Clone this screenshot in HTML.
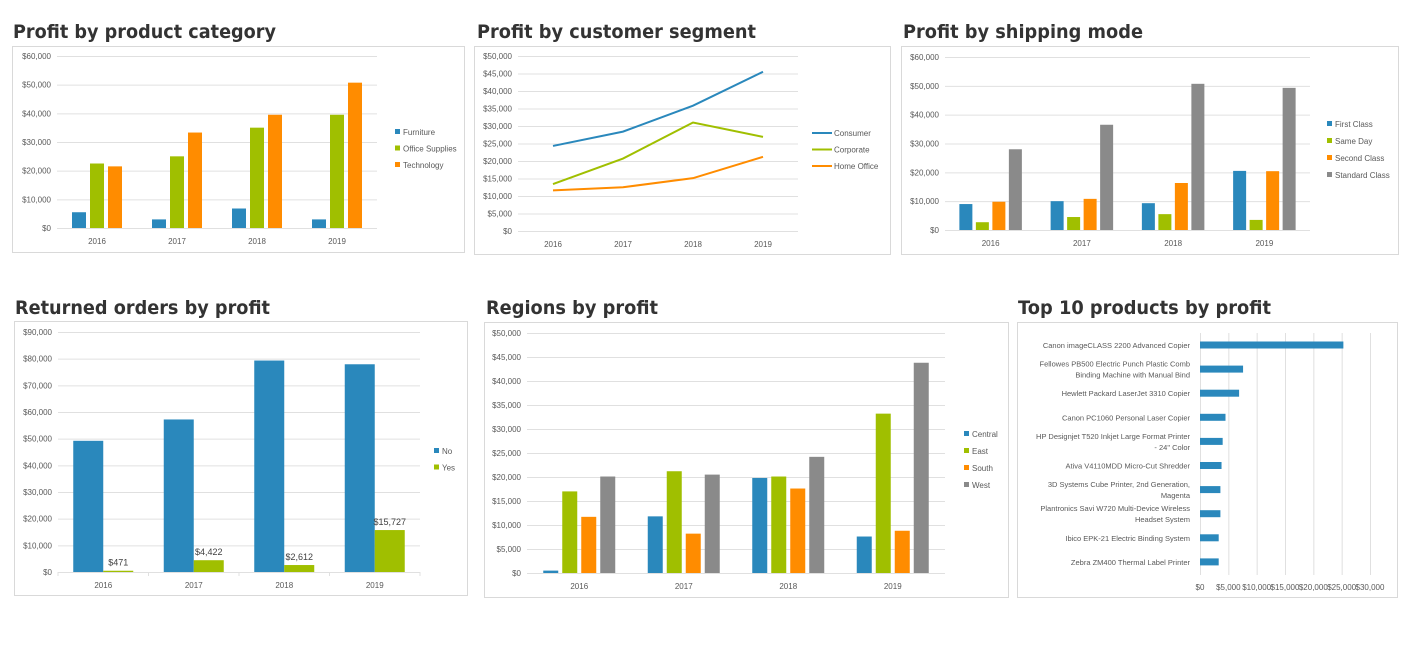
<!DOCTYPE html>
<html><head><meta charset="utf-8"><style>
html,body{margin:0;padding:0;background:#fff;width:1409px;height:645px;overflow:hidden}
svg{display:block;font-family:"Liberation Sans","DejaVu Sans",sans-serif}
</style></head><body>
<svg id="s" width="1409" height="645" viewBox="0 0 1409 645"></svg>
<script>
const years=["2016","2017","2018","2019"];
const catNames=["Furniture","Office Supplies","Technology"];
const catFurniture=[5500,3000,6800,3000];
const catOffice=[22500,25000,35000,39500];
const catTech=[21500,33300,39500,50700];
const catTicks=[0,10000,20000,30000,40000,50000,60000];
const segNames=["Consumer","Corporate","Home Office"];
const segConsumer=[24300,28400,35800,45500];
const segCorporate=[13400,20700,31000,26900];
const segHome=[11600,12500,15100,21200];
const segTicks=[0,5000,10000,15000,20000,25000,30000,35000,40000,45000,50000];
const shipNames=["First Class","Same Day","Second Class","Standard Class"];
const shipFirst=[9000,10000,9300,20500];
const shipSame=[2700,4500,5500,3500];
const shipSecond=[9800,10800,16300,20400];
const shipStandard=[28000,36500,50700,49300];
const shipTicks=[0,10000,20000,30000,40000,50000,60000];
const retNames=["No","Yes"];
const retNo=[49200,57200,79300,77900];
const retYes=[471,4422,2612,15727];
const retLabels=["$471","$4,422","$2,612","$15,727"];
const retTicks=[0,10000,20000,30000,40000,50000,60000,70000,80000,90000];
const regNames=["Central","East","South","West"];
const regCentral=[500,11800,19800,7600];
const regEast=[17000,21200,20100,33200];
const regSouth=[11700,8200,17600,8800];
const regWest=[20100,20500,24200,43800];
const regTicks=[0,5000,10000,15000,20000,25000,30000,35000,40000,45000,50000];
const prodNames=[["Canon imageCLASS 2200 Advanced Copier"],["Fellowes PB500 Electric Punch Plastic Comb","Binding Machine with Manual Bind"],["Hewlett Packard LaserJet 3310 Copier"],["Canon PC1060 Personal Laser Copier"],["HP Designjet T520 Inkjet Large Format Printer","- 24\" Color"],["Ativa V4110MDD Micro-Cut Shredder"],["3D Systems Cube Printer, 2nd Generation,","Magenta"],["Plantronics Savi W720 Multi-Device Wireless","Headset System"],["Ibico EPK-21 Electric Binding System"],["Zebra ZM400 Thermal Label Printer"]];
const prodValues=[25300,7600,6900,4500,4000,3800,3600,3600,3300,3300];
const prodTicks=[0,5000,10000,15000,20000,25000,30000];

const S=document.getElementById('s');const NS='http://www.w3.org/2000/svg';
const BLUE='#2a88bc',GREEN='#a0bf00',ORANGE='#ff8c00',GRAY='#8a8a8a',TXT='#595959',GRID='#e0e0e0';
function el(t,a,p){const e=document.createElementNS(NS,t);for(const k in a)e.setAttribute(k,a[k]);(p||S).appendChild(e);return e;}
function txt(x,y,s,a,p){const e=el('text',Object.assign({x:x,y:y,fill:TXT,'font-size':8},a),p);e.textContent=s;return e;}
function money(v){return '$'+v.toLocaleString('en-US');}
function title(x,y,s,w,name){const t=txt(x,y,s,{'font-size':19,'font-weight':'bold',fill:'#333','font-family':'"DejaVu Sans",sans-serif',textLength:w,lengthAdjust:'spacingAndGlyphs'});}
function box(x,y,w,h,name){const r=el('rect',{x:x+.5,y:y+.5,width:w,height:h,fill:'#fff',stroke:'#d9d9d9'});}
function yaxis(ticks,x0,x1,yTop,yBot,g){const mx=ticks[ticks.length-1];const sy=v=>yBot-(v/mx)*(yBot-yTop);
 ticks.forEach(t=>{const l=el('line',{x1:x0,x2:x1,y1:sy(t)+.5,y2:sy(t)+.5,stroke:GRID},g);
  const tl=txt(x0-6,sy(t)+3,money(t),{'text-anchor':'end'},g);});return sy;}
function xlabels(x0,x1,yBot,g,ticks){const n=years.length,w=(x1-x0)/n;const cx=i=>x0+w*(i+.5);
 years.forEach((yr,i)=>{const t=txt(cx(i),yBot+16,yr,{'text-anchor':'middle'},g);});
 if(ticks){for(let i=0;i<=n;i++)el('line',{x1:x0+w*i,x2:x0+w*i,y1:yBot,y2:yBot+4,stroke:GRID},g);}
 return {cx:cx,w:w};}
function legend(names,colors,x,y0,dy,g,line){names.forEach((n,i)=>{const y=y0+dy*i;const gg=el('g',{},g);
 if(line)el('line',{x1:x,x2:x+20,y1:y,y2:y,stroke:colors[i],'stroke-width':2},gg);else el('rect',{x:x,y:y-3,width:5,height:5,fill:colors[i]},gg);
 txt(x+(line?22:8),y+3,n,{},gg);});}
function bars(series,colors,names,x0,x1,yTop,yBot,ticks,bw,gap,g,ti){const sy=yaxis(ticks,x0,x1,yTop,yBot,g);const xl=xlabels(x0,x1,yBot,g,ti);
 const k=series.length;const tot=k*bw+(k-1)*gap;
 series.forEach((s,j)=>s.forEach((v,i)=>{const x=xl.cx(i)-tot/2+j*(bw+gap);const r=el('rect',{x:x,y:sy(v),width:bw,height:yBot-sy(v),fill:colors[j]},g);
  }));return {sy:sy,xl:xl,tot:tot};}

title(13,38,'Profit by product category',263,'chart-title-category');
box(12,46,452,206,'chart-category');
{const g=el('g',{});
 bars([catFurniture,catOffice,catTech],[BLUE,GREEN,ORANGE],catNames,57,377,56,228,catTicks,14,4,g,false);
 legend(catNames,[BLUE,GREEN,ORANGE],395,132,16.5,g,false);}
title(477,38,'Profit by customer segment',279,'chart-title-segment');
box(474,46,416,208,'chart-segment');
{const g=el('g',{});
 const sy=yaxis(segTicks,518,798,56,231,g);const xl=xlabels(518,798,231,g,false);
 [[segConsumer,BLUE],[segCorporate,GREEN],[segHome,ORANGE]].forEach((p,j)=>{const pl=el('polyline',{points:p[0].map((v,i)=>xl.cx(i)+','+sy(v)).join(' '),fill:'none',stroke:p[1],'stroke-width':2},g);
  });
 legend(segNames,[BLUE,GREEN,ORANGE],812,133,16.5,g,true);}
title(903,38,'Profit by shipping mode',240,'chart-title-shipping');
box(901,46,497,208,'chart-shipping');
{const g=el('g',{});
 bars([shipFirst,shipSame,shipSecond,shipStandard],[BLUE,GREEN,ORANGE,GRAY],shipNames,945,1310,57,230,shipTicks,13,3.5,g,false);
 legend(shipNames,[BLUE,GREEN,ORANGE,GRAY],1327,124,17,g,false);}
title(15,314,'Returned orders by profit',255,'chart-title-returned');
box(14,321,453,274,'chart-returned');
{const g=el('g',{});
 const r=bars([retNo,retYes],[BLUE,GREEN],retNames,58,420,332,572,retTicks,30,0,g,true);
 retYes.forEach((v,i)=>{const t=txt(r.xl.cx(i)+15,r.sy(v)-5,retLabels[i],{'text-anchor':'middle','font-size':9,fill:'#404040'},g);});
 legend(retNames,[BLUE,GREEN],434,451,16.5,g,false);}
title(486,314,'Regions by profit',172,'chart-title-regions');
box(484,322,524,275,'chart-regions');
{const g=el('g',{});
 bars([regCentral,regEast,regSouth,regWest],[BLUE,GREEN,ORANGE,GRAY],regNames,527,945,333,573,regTicks,15,4,g,false);
 legend(regNames,[BLUE,GREEN,ORANGE,GRAY],964,434,17,g,false);}
title(1018,314,'Top 10 products by profit',253,'chart-title-products');
box(1017,322,380,275,'chart-products');
{const g=el('g',{});
 const x0=1200,x1=1370,mx=prodTicks[prodTicks.length-1];const sx=v=>x0+(v/mx)*(x1-x0);
 prodTicks.forEach(t=>{el('line',{x1:sx(t)+.5,x2:sx(t)+.5,y1:333,y2:575,stroke:GRID},g);const tl=txt(sx(t),590,money(t),{'text-anchor':'middle'},g);});
 const y0=345,dy=24.1;
 prodValues.forEach((v,i)=>{const y=y0+dy*i;const r=el('rect',{x:x0,y:y-3.5,width:sx(v)-x0,height:7,fill:BLUE},g);
  const lines=prodNames[i];lines.forEach((s,k)=>{const t=txt(1190,y+3+(k-(lines.length-1)/2)*11,s,{'text-anchor':'end','font-size':7.5},g);});});}
</script>
</body></html>
